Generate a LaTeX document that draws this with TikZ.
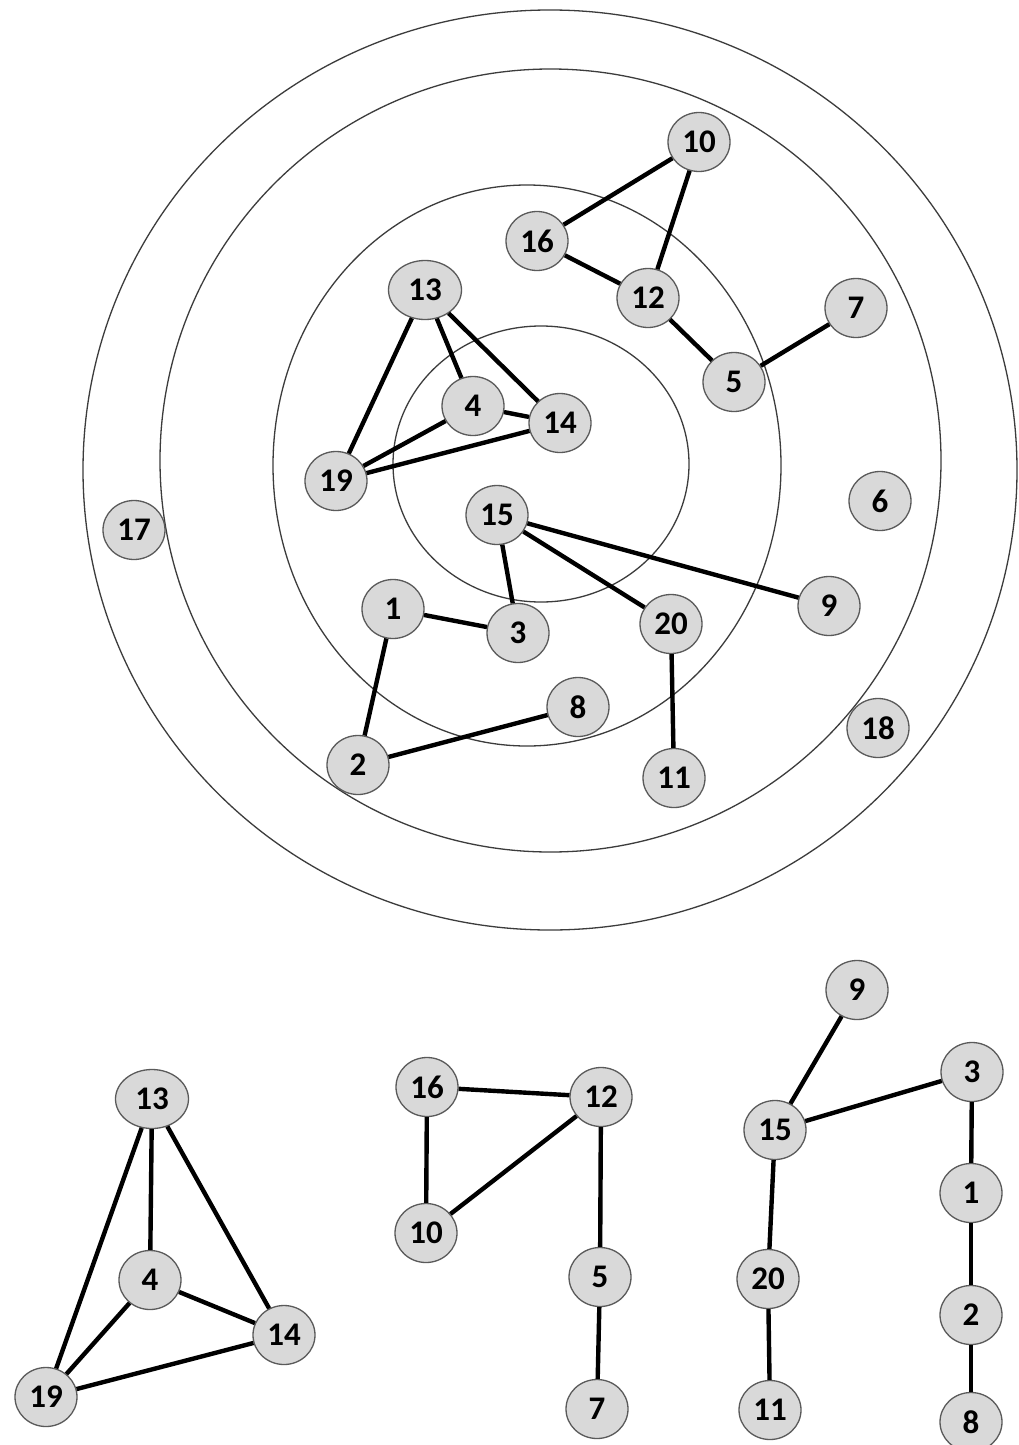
\documentclass[tikz,border=0pt]{standalone}
\usepackage{fontspec}
\setmainfont{Carlito}
\usetikzlibrary{shapes.geometric}
\definecolor{nodefill}{RGB}{217,217,217}
\definecolor{nodeline}{RGB}{90,90,90}
\definecolor{ringline}{RGB}{60,60,60}
\newcommand{\vtxfont}{\fontsize{33pt}{36pt}\selectfont\bfseries}
\tikzset{
  vtx/.style={ellipse, draw=nodeline, line width=1.3pt, fill=nodefill, inner sep=0pt,
    minimum width=62pt, minimum height=59pt, font=\vtxfont, text=black},
  wide/.style={minimum width=73pt},
  edge/.style={line width=4.4pt, black},
  ring/.style={draw=ringline, line width=1.3pt}
}
\begin{document}
\begin{tikzpicture}[x=1pt,y=-1pt]
\useasboundingbox (0,0) rectangle (1019,1445);
\fill[white] (0,0) rectangle (1019,1445);
% rings
\draw[ring] (550,470) ellipse [x radius=467, y radius=460];
\draw[ring] (550.5,460.5) ellipse [x radius=390.5, y radius=391.5];
\draw[ring] (527,465.5) ellipse [x radius=254, y radius=280.5];
\draw[ring] (541,464) ellipse [x radius=148, y radius=138];
% upper nodes
\node[vtx] (u10) at (699,142) {10};
\node[vtx] (u16) at (537,241) {16};
\node[vtx] (u12) at (648,298) {12};
\node[vtx] (u7) at (856,308) {7};
\node[vtx,wide] (u13) at (425,290) {13};
\node[vtx] (u5) at (734,382) {5};
\node[vtx] (u4) at (473,406) {4};
\node[vtx] (u14) at (560,423) {14};
\node[vtx] (u19) at (336,481) {19};
\node[vtx] (u6) at (880,501) {6};
\node[vtx] (u15) at (497,515) {15};
\node[vtx] (u17) at (134,530) {17};
\node[vtx] (u1) at (393,609) {1};
\node[vtx] (u3) at (518,633) {3};
\node[vtx] (u9) at (829,606) {9};
\node[vtx] (u20) at (671,624) {20};
\node[vtx] (u8) at (578,707) {8};
\node[vtx] (u18) at (878,728) {18};
\node[vtx] (u2) at (358,765) {2};
\node[vtx] (u11) at (674,778) {11};
% upper edges
\draw[edge] (u10) -- (u16);
\draw[edge] (u10) -- (u12);
\draw[edge] (u16) -- (u12);
\draw[edge] (u12) -- (u5);
\draw[edge] (u5) -- (u7);
\draw[edge] (u13) -- (u4);
\draw[edge] (u13) -- (u14);
\draw[edge] (u13) -- (u19);
\draw[edge] (u4) -- (u14);
\draw[edge] (u4) -- (u19);
\draw[edge] (u19) -- (u14);
\draw[edge] (u15) -- (u3);
\draw[edge] (u15) -- (u20);
\draw[edge] (u15) -- (u9);
\draw[edge] (u1) -- (u3);
\draw[edge] (u1) -- (u2);
\draw[edge] (u2) -- (u8);
\draw[edge] (u20) -- (u11);
% lower nodes
\node[vtx,wide] (l13) at (152,1099) {13};
\node[vtx] (l16) at (427,1087) {16};
\node[vtx] (l12) at (601,1097) {12};
\node[vtx] (l9) at (857,990) {9};
\node[vtx] (l3) at (972,1072) {3};
\node[vtx] (l15) at (775,1130) {15};
\node[vtx] (l1) at (971,1193) {1};
\node[vtx] (l10) at (426,1233) {10};
\node[vtx] (l4) at (150,1280) {4};
\node[vtx] (l5) at (600,1277) {5};
\node[vtx] (l14) at (284,1335) {14};
\node[vtx] (l20) at (768,1279) {20};
\node[vtx] (l2) at (971,1315) {2};
\node[vtx] (l19) at (46,1397) {19};
\node[vtx] (l7) at (597,1409) {7};
\node[vtx] (l11) at (770,1410) {11};
\node[vtx] (l8) at (971,1422) {8};
% lower edges
\draw[edge] (l13) -- (l19);
\draw[edge] (l13) -- (l4);
\draw[edge] (l13) -- (l14);
\draw[edge] (l4) -- (l14);
\draw[edge] (l4) -- (l19);
\draw[edge] (l19) -- (l14);
\draw[edge] (l16) -- (l12);
\draw[edge] (l16) -- (l10);
\draw[edge] (l10) -- (l12);
\draw[edge] (l12) -- (l5);
\draw[edge] (l5) -- (l7);
\draw[edge] (l9) -- (l15);
\draw[edge] (l15) -- (l3);
\draw[edge] (l3) -- (l1);
\draw[edge] (l1) -- (l2);
\draw[edge] (l2) -- (l8);
\draw[edge] (l15) -- (l20);
\draw[edge] (l20) -- (l11);
\end{tikzpicture}
\end{document}
